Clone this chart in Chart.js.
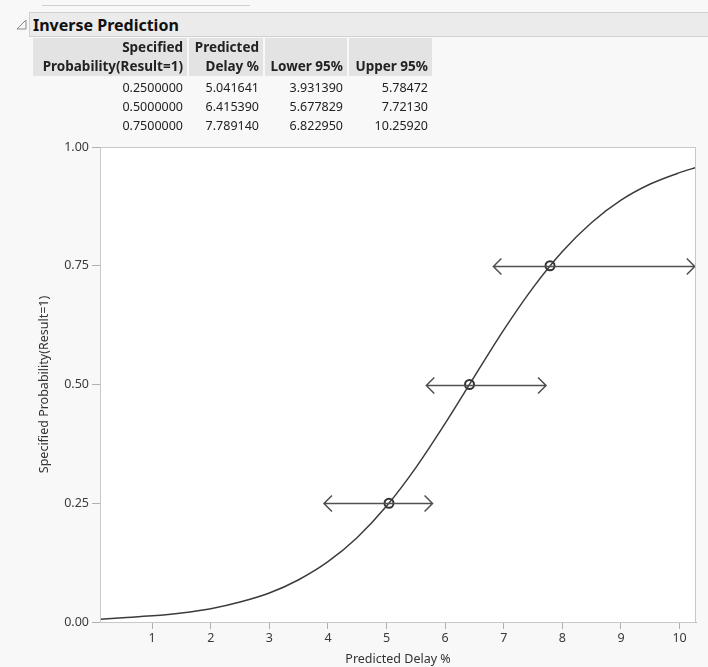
<!DOCTYPE html>
<html>
<head>
<meta charset="utf-8">
<script src="https://cdn.jsdelivr.net/npm/chart.js@4.4.1/dist/chart.umd.min.js"></script>
<style>
body { margin: 0; width: 708px; height: 667px; overflow: hidden; position: relative; background: #f8f8f8; font-family: 'Noto Sans', sans-serif; color: #222; }
#topline { position: absolute; left: 42px; top: 5px; width: 208px; height: 1px; background: #cfcfcf; }
#hdr { position: absolute; left: 29px; top: 12px; right: -2px; height: 23px; background: #ebebeb; border: 1px solid #d0d0d0; z-index: 2; }
#hdr span { position: absolute; left: 3px; top: 1px; font-weight: bold; font-size: 16px; line-height: 22px; color: #111; }
#tri { position: absolute; left: 16px; top: 19px; z-index: 2; }
#tbl { position: absolute; left: 31px; top: 38px; border-collapse: separate; border-spacing: 2px 0; font-size: 12.5px; z-index: 2; }
#tbl th { background: #e3e3e3; font-weight: bold; font-size: 13.5px; text-align: right; padding: 0 4px; line-height: 19px; height: 38px; vertical-align: bottom; color: #222; }
#tbl td { text-align: right; padding: 0 4px; line-height: 19px; color: #222; }
#tbl tbody tr:first-child td { padding-top: 2px; }
#wrap { position: absolute; left: 0; top: 0; width: 708px; height: 667px; z-index: 1; }
</style>
</head>
<body>
<div id="topline"></div>
<svg id="tri" width="11" height="11"><path d="M1 10 L10 10 L10 1 Z" fill="none" stroke="#8a8a8a" stroke-width="1"/></svg>
<div id="hdr"><span>Inverse Prediction</span></div>
<table id="tbl">
  <thead>
    <tr>
      <th style="width:146px">Specified<br>Probability(Result=1)</th>
      <th style="width:66px">Predicted<br>Delay %</th>
      <th style="width:74px">Lower 95%</th>
      <th style="width:75px">Upper 95%</th>
    </tr>
  </thead>
  <tbody id="rows"></tbody>
</table>
<div id="wrap"><canvas id="chart" width="708" height="667"></canvas></div>
<script>
// inverse prediction table values
const probs = [0.25, 0.5, 0.75]
const predicted = [5.041641, 6.415390, 7.789140]
const lower95 = [3.931390, 5.677829, 6.822950]
const upper95 = [5.78472, 7.72130, 10.25920]

// fitted logistic curve
const curveX = [0.11, 0.5, 1, 1.5, 2, 2.5, 3, 3.5, 4, 4.5, 5, 5.5, 6, 6.5, 7, 7.5, 8, 8.5, 9, 9.5, 10, 10.28]
const curveY = [0.006, 0.009, 0.013, 0.019, 0.028, 0.042, 0.061, 0.089, 0.127, 0.178, 0.244, 0.325, 0.418, 0.517, 0.615, 0.704, 0.780, 0.841, 0.888, 0.922, 0.946, 0.957]

const xTicks = [1, 2, 3, 4, 5, 6, 7, 8, 9, 10]
const yTicks = [0, 0.25, 0.5, 0.75, 1]

const rows = document.getElementById('rows')
probs.forEach((p, i) => {
    const tr = document.createElement('tr')
    const cells = [p.toFixed(7), predicted[i].toFixed(6), lower95[i].toFixed(6), upper95[i].toFixed(5)]
    cells.forEach(c => {
        const td = document.createElement('td')
        td.textContent = c
        tr.appendChild(td)
    })
    rows.appendChild(tr)
})

const tickFont = { family: "'Noto Sans', sans-serif", size: 12.5 }

// white plot background + light frame
const plotFrame = {
    id: 'plotFrame',
    beforeDraw(chart) {
        const { ctx, chartArea: a } = chart
        ctx.save()
        ctx.fillStyle = '#ffffff'
        ctx.fillRect(a.left, a.top, a.right - a.left, a.bottom - a.top)
        ctx.restore()
    },
    afterDraw(chart) {
        const { ctx, chartArea: a } = chart
        ctx.save()
        ctx.strokeStyle = '#c8c8c8'
        ctx.lineWidth = 1
        ctx.strokeRect(a.left + 0.5, a.top + 0.5, a.right - a.left - 1, a.bottom - a.top)
        ctx.restore()
    }
}

// horizontal confidence intervals with open arrow ends
const intervals = {
    id: 'intervals',
    afterDatasetsDraw(chart) {
        const { ctx, scales: { x, y } } = chart
        ctx.save()
        ctx.strokeStyle = '#505050'
        ctx.lineWidth = 1.5
        probs.forEach((p, i) => {
            const py = Math.round(y.getPixelForValue(p)) + 0.5
            const xl = x.getPixelForValue(lower95[i])
            const xu = x.getPixelForValue(upper95[i])
            ctx.beginPath()
            ctx.moveTo(xl, py)
            ctx.lineTo(xu, py)
            ctx.moveTo(xl + 8, py - 8)
            ctx.lineTo(xl, py)
            ctx.lineTo(xl + 8, py + 8)
            ctx.moveTo(xu - 8, py - 8)
            ctx.lineTo(xu, py)
            ctx.lineTo(xu - 8, py + 8)
            ctx.stroke()
        })
        ctx.restore()
    }
}

const ctx = document.getElementById('chart').getContext('2d')
const myChart = new Chart(ctx, {
    type: 'scatter',
    data: {
        datasets: [{
            type: 'line',
            data: curveX.map((v, i) => ({ x: v, y: curveY[i] })),
            borderColor: '#3c3c3c',
            borderWidth: 1.5,
            pointRadius: 0,
            cubicInterpolationMode: 'monotone',
            fill: false
        }, {
            data: predicted.map((v, i) => ({ x: v, y: probs[i] })),
            pointStyle: 'circle',
            pointRadius: 4.5,
            borderWidth: 2,
            borderColor: '#333333',
            backgroundColor: 'rgba(0,0,0,0)'
        }]
    },
    options: {
        responsive: false,
        animation: false,
        events: [],
        layout: { padding: { left: 0, right: 12, top: 147, bottom: 0 } },
        plugins: { legend: { display: false }, tooltip: { enabled: false } },
        scales: {
            x: {
                type: 'linear',
                min: 0.11,
                max: 10.28,
                afterBuildTicks: s => { s.ticks = xTicks.map(v => ({ value: v })) },
                afterFit: s => { s.height = 45 },
                ticks: { font: tickFont, color: '#3a3a3a', padding: 2, maxRotation: 0 },
                grid: { drawOnChartArea: false, tickLength: 7, tickColor: '#b0b0b0' },
                border: { color: '#b8b8b8' },
                title: { display: true, text: 'Predicted Delay %', font: tickFont, color: '#333', padding: { top: 0, bottom: 0 } }
            },
            y: {
                min: 0,
                max: 1,
                afterBuildTicks: s => { s.ticks = yTicks.map(v => ({ value: v })) },
                afterFit: s => { s.width = 100 },
                ticks: { font: tickFont, color: '#3a3a3a', padding: 3, callback: v => v.toFixed(2) },
                grid: { drawOnChartArea: false, tickLength: 8, tickColor: '#b0b0b0' },
                border: { color: '#b8b8b8' },
                title: { display: true, text: 'Specified Probability(Result=1)', font: tickFont, color: '#333', padding: { top: 37, bottom: 0 } }
            }
        }
    },
    plugins: [plotFrame, intervals]
})
</script>
</body>
</html>
